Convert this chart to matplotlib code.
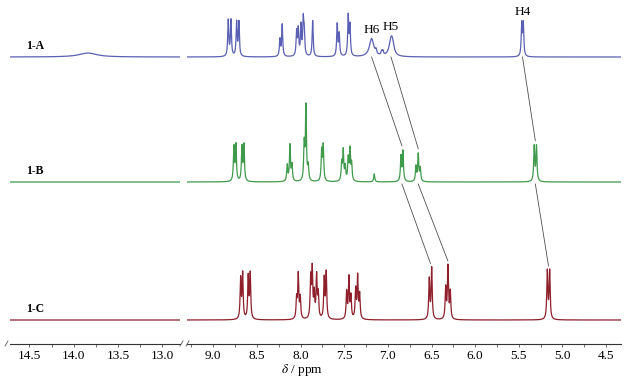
import numpy as np
import matplotlib.pyplot as plt
from matplotlib.ticker import MultipleLocator

plt.rcParams['font.family'] = ['Liberation Serif', 'DejaVu Serif']
plt.rcParams['mathtext.fontset'] = 'stix'

# ---- peak lists (ppm, height in px) ----
a_ppm = [8.828, 8.797, 8.732, 8.706, 8.236, 8.210, 8.045, 8.026, 7.995, 7.969,
         7.958, 7.861, 7.580, 7.557, 7.454, 7.434, 7.186, 7.136, 7.071, 7.056,
         6.964, 6.945, 5.467, 5.449, 13.84]
a_h = [36, 36, 34, 34, 17, 32, 24, 26, 30, 34, 22, 36, 32, 22, 40, 30,
       18, 4, 4, 4, 16, 8, 32, 32, 4]
a_w = [0.007] * 16 + [0.03, 0.008, 0.008, 0.008, 0.025, 0.02, 0.007, 0.007, 0.12]

b_ppm = [8.763, 8.740, 8.671, 8.648, 8.152, 8.121, 8.098, 7.958, 7.938, 7.912,
         7.758, 7.740, 7.529, 7.511, 7.488, 7.454, 7.434, 7.415, 7.156,
         6.850, 6.827, 6.678, 6.652, 6.629, 5.324, 5.298]
b_h = [34, 36, 34, 36, 16, 36, 16, 36, 74, 14, 30, 35, 18, 30, 14, 22, 31, 17, 8,
       25, 30, 15, 27, 13, 35, 35]

c_ppm = [8.686, 8.663, 8.599, 8.576, 8.045, 8.026, 8.003, 7.884, 7.866, 7.843,
         7.816, 7.797, 7.729, 7.706, 7.472, 7.446, 7.423, 7.369, 7.346, 7.323,
         6.526, 6.498, 6.338, 6.312, 6.285, 5.174, 5.147]
c_h = [40, 45, 42, 45, 20, 44, 21, 40, 48, 24, 42, 24, 40, 46, 27, 41, 22, 29, 42, 24,
       40, 51, 31, 52, 27, 48, 48]

# assigned signals (H6, H5, H4) in each spectrum
assign_labels = ['H6', 'H5', 'H4']
assign_a = [7.186, 6.964, 5.458]
assign_b = [6.839, 6.652, 5.311]
assign_c = [6.512, 6.312, 5.160]

names = ['1-A', '1-B', '1-C']
colors = ['#5a60b4', '#3f9a4c', '#8e1f2b']
offsets = [287, 162, 24]

left_lim = (14.72, 12.80)
right_lim = (9.30, 4.33)


def spectrum(x, ppm, h, w=0.007):
    w = np.broadcast_to(w, len(ppm))
    y = np.zeros_like(x)
    for p, hh, ww in zip(ppm, h, w):
        y += hh / (1 + ((x - p) / ww) ** 2)
    return y


xl = np.linspace(*left_lim, 4000)
xr = np.linspace(*right_lim, 12000)
specs = [(a_ppm, a_h, a_w), (b_ppm, b_h, 0.007), (c_ppm, c_h, 0.007)]

fig = plt.figure(figsize=(6.38, 3.82), dpi=100)
ax_l = fig.add_axes([10 / 638, 1 - 344 / 382, 170 / 638, 344 / 382])
ax_r = fig.add_axes([187 / 638, 1 - 344 / 382, 434 / 638, 344 / 382])

for ax, lim, x in [(ax_l, left_lim, xl), (ax_r, right_lim, xr)]:
    for (pp, hh, ww), col, off in zip(specs, colors, offsets):
        ax.plot(x, off + spectrum(x, pp, hh, ww), color=col, lw=0.9)
    ax.set_xlim(*lim)
    ax.set_ylim(0, 344)
    for s in ['top', 'left', 'right']:
        ax.spines[s].set_visible(False)
    ax.spines['bottom'].set_color('#333333')
    ax.spines['bottom'].set_linewidth(0.8)
    ax.set_yticks([])
    ax.xaxis.set_major_locator(MultipleLocator(0.5))
    ax.xaxis.set_minor_locator(MultipleLocator(0.25))
    ax.tick_params(axis='x', which='both', direction='out', length=2,
                   width=0.6, color='#555555', labelsize=9.5, pad=2)
    ax.patch.set_alpha(0)

# spectrum names
for name, off in zip(names, offsets):
    ax_l.text(14.54, off + 11, name, fontsize=8.5, fontweight='bold',
              ha='left', va='center')

# connector lines between assigned signals
xx = xr
tops = []
for (pp, hh, ww) in specs:
    tops.append(spectrum(xx, pp, hh, ww))


def top_near(i, p):
    m = np.abs(xx - p) < 0.035
    return tops[i][m].max()


for lab, pa, pb, pc in zip(assign_labels, assign_a, assign_b, assign_c):
    ax_r.plot([pa, pb], [offsets[0], offsets[1] + top_near(1, pb) + 4],
              color='#505050', lw=0.6)
    ax_r.plot([pb, pc], [offsets[1] - 2, offsets[2] + top_near(2, pc) + 3],
              color='#505050', lw=0.6)
    ax_r.text(pa, offsets[0] + top_near(0, pa) + 9, lab, fontsize=9.5,
              ha='center', va='center')

# axis break marks
kw = dict(color='#555555', lw=0.6, clip_on=False, transform=fig.transFigure)
for xp in [5, 180, 186]:
    fig.add_artist(plt.Line2D([xp / 638, (xp + 3) / 638],
                              [1 - 346 / 382, 1 - 341 / 382], **kw))

fig.text(302 / 638, 1 - 370 / 382, r'$\delta$ / ppm', fontsize=9.5,
         ha='center', va='center')

fig.savefig('out.png', dpi=100)
